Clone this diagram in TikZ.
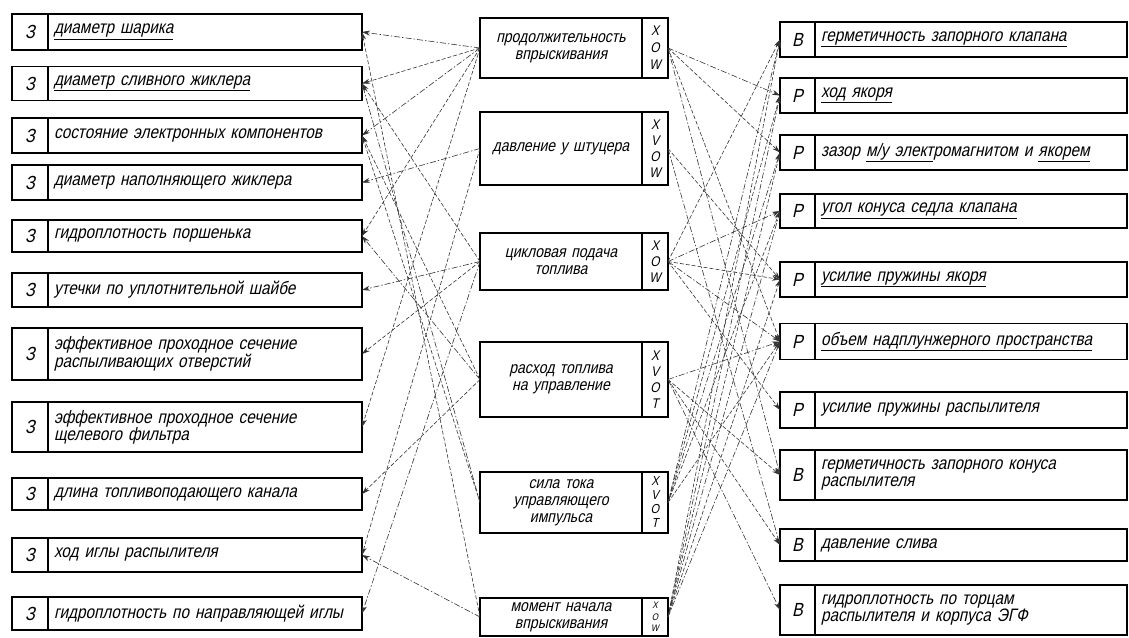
\documentclass[tikz,border=0pt]{standalone}
\usepackage{fontspec}
\newfontfamily\gost{Liberation Sans}[FakeSlant=0.22,FakeStretch=0.85]
\usetikzlibrary{arrows.meta}
\usetikzlibrary{positioning}

\tikzset{
  frame/.style={draw, line width=1.3pt, inner sep=0pt, outer sep=0pt},
  param/.style={frame, anchor=west, align=left, inner xsep=6pt,
    font=\gost\fontsize{18}{17}\selectfont},
  idx/.style={frame, anchor=east, font=\gost\fontsize{19}{17}\selectfont},
  link/.style={-{Stealth[length=8pt,width=5pt]}, black!80, line width=.6pt,
    dash pattern=on 6pt off 2pt on 1.5pt off 2pt},
  linkb/.style={link, dash pattern=on 4pt off 2pt},
}

\begin{document}
\begin{tikzpicture}[x=1pt,y=-1pt]
\useasboundingbox (0,0) rectangle (1129,637);

% left column
\foreach \n/\y/\h/\t in {
    1/32/36/{\underline{диаметр шарика}},
    2/83.5/34/{\underline{диаметр сливного жиклера}},
    3/135.5/35/{состояние электронных компонентов},
    4/182.5/35/{диаметр наполняющего жиклера},
    5/236/32/{гидроплотность поршенька},
    6/290/34/{утечки по уплотнительной шайбе},
    7/354/52/{эффективное проходное сечение\\распыливающих отверстий},
    8/427/50/{эффективное проходное сечение\\щелевого фильтра},
    9/494/32/{длина топливоподающего канала},
    10/555/34/{ход иглы распылителя},
    11/613.5/33/{гидроплотность по направляющей иглы}}{
  \node[param, text width=302pt, minimum height=\h pt] (l\n) at (48,\y) {\t};
  \node[idx, minimum width=36pt, minimum height=\h pt, left=0pt of l\n] (l\n z) {З};
}

% middle column
\foreach \n/\y/\h/\t/\c/\f/\s in {
    1/48/60/{продолжительность\\впрыскивания}/{X\\O\\W}/14/17,
    2/148.5/73/{давление у штуцера}/{X\\V\\O\\W}/14/16,
    3/261.5/57/{цикловая подача\\топлива}/{X\\O\\W}/14/16,
    4/379.5/75/{расход топлива\\на управление}/{X\\V\\O\\T}/14/16,
    5/502.5/61/{сила тока\\управляющего\\импульса}/{X\\V\\O\\T}/13/14,
    6/617/38/{момент начала\\впрыскивания}/{X\\O\\W}/9.5/11.5}{
  \node[param, anchor=center, align=center, text width=150pt, minimum height=\h pt,
    font=\gost\fontsize{16.5}{17}\selectfont] (m\n) at (561,\y) {\t};
  \node[idx, minimum width=26pt, minimum height=\h pt, right=0pt of m\n, align=center,
    font=\gost\fontsize{\f}{\s}\selectfont] (m\n c) {\c};
}

% right column
\foreach \n/\y/\h/\l/\t in {
    1/39.5/35/В/{\underline{герметичность запорного клапана}},
    2/95.5/35/Р/{\underline{ход якоря}},
    3/152.5/35/Р/{зазор \underline{м/у элект}ромагнитом и \underline{якорем}},
    4/211/34/Р/{\underline{угол конуса седла клапана}},
    5/279.5/35/Р/{\underline{усилие пружины якоря}},
    6/341.5/36/Р/{\underline{объем надплунжерного пространства}},
    7/410/36/Р/{усилие пружины распылителя},
    8/475/50/В/{герметичность запорного конуса\\распылителя},
    9/545/32/В/{давление слива},
    10/610/50/В/{гидроплотность по торцам\\распылителя и корпуса ЭГФ}}{
  \node[param, text width=300pt, minimum height=\h pt] (r\n t) at (815,\y) {\t};
  \node[idx, minimum width=35pt, minimum height=\h pt, left=0pt of r\n t] (r\n) {\l};
}

% links to the left
\foreach \a/\b in {1/1,1/3,2/4,3/6,3/11,4/5,6/10,5/2}
  \draw[link] (m\a.west) -- (l\b.east);
\foreach \a/\b in {1/2,1/5,1/8,2/10,3/2,3/7,4/3,4/9,5/3,6/1}
  \draw[linkb] (m\a.west) -- (l\b.east);

% links to the right
\foreach \a/\b in {1/2,1/8,2/9,3/4,3/6,4/6,4/10,5/1,5/3,6/2,6/4,6/6}
  \draw[link] (m\a c.east) -- (r\b.west);
\foreach \a/\b in {1/3,1/6,2/5,3/1,3/5,3/7,4/8,4/9,5/2,5/4,5/6,6/1,6/3,6/5}
  \draw[linkb] (m\a c.east) -- (r\b.west);
\end{tikzpicture}
\end{document}
